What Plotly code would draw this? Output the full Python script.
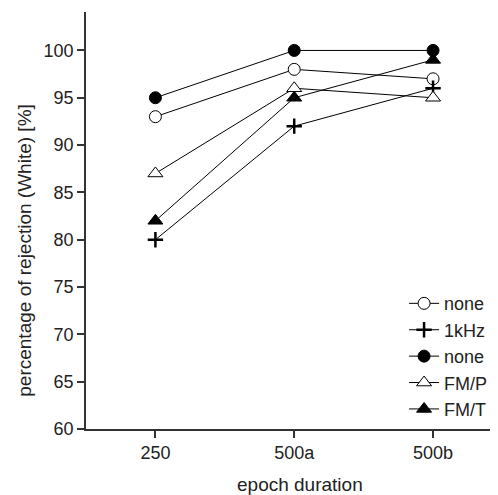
import plotly.graph_objects as go

categories = ["250", "500a", "500b"]
names = ["none", "1kHz", "none", "FM/P", "FM/T"]
open_circle = [93, 98, 97]
plus_1khz = [80, 92, 96]
filled_circle = [95, 100, 100]
open_triangle = [87, 96, 95]
filled_triangle = [82, 95, 99]
y_ticks = [60, 65, 70, 75, 80, 85, 90, 95, 100]

series = [open_circle, plus_1khz, filled_circle, open_triangle, filled_triangle]
styles = [
    dict(symbol="circle", color="white", size=12, line=dict(color="black", width=1)),
    dict(symbol="cross-thin", color="black", size=11, line=dict(color="black", width=2.5)),
    dict(symbol="circle", color="black", size=12, line=dict(color="black", width=1)),
    dict(symbol="triangle-up", color="white", size=13, line=dict(color="black", width=1)),
    dict(symbol="triangle-up", color="black", size=13, line=dict(color="black", width=1)),
]

xpos = list(range(len(categories)))
fig = go.Figure()
for name, vals, st in zip(names, series, styles):
    fig.add_trace(go.Scatter(
        x=xpos, y=vals, name=name, mode="lines+markers",
        line=dict(color="black", width=1), marker=st,
    ))

fig.update_layout(
    width=490, height=487,
    margin=dict(l=78, r=0, t=4, b=66),
    paper_bgcolor="white", plot_bgcolor="white",
    font=dict(family="Liberation Sans", size=18, color="#222"),
    showlegend=True,
    legend=dict(x=0.772, xanchor="left", y=0.345, yanchor="top",
                bgcolor="rgba(0,0,0,0)", font=dict(size=18),
                tracegroupgap=0, itemwidth=30),
    annotations=[
        dict(text="epoch duration", xref="paper", yref="paper", x=0.519, y=-0.132,
             xanchor="center", yanchor="middle", showarrow=False, font=dict(size=19)),
        dict(text="percentage of rejection (White) [%]", xref="paper", yref="paper",
             x=-0.150, y=0.428, xanchor="center", yanchor="middle", textangle=-90,
             showarrow=False, font=dict(size=19)),
    ],
)
fig.update_xaxes(
    range=[-0.5, 2.468], tickmode="array", tickvals=xpos, ticktext=categories,
    showline=True, linecolor="#333", linewidth=1.5, ticks="outside", ticklen=7,
    tickcolor="#333", tickwidth=1.5, showgrid=False, zeroline=False, automargin=False,
)
fig.update_yaxes(
    range=[60, 104.06], tickvals=y_ticks,
    showline=True, linecolor="#333", linewidth=1.5, ticks="outside", ticklen=7,
    tickcolor="#333", tickwidth=1.5, showgrid=False, zeroline=False, automargin=False,
)
fig.write_html("out.html")
